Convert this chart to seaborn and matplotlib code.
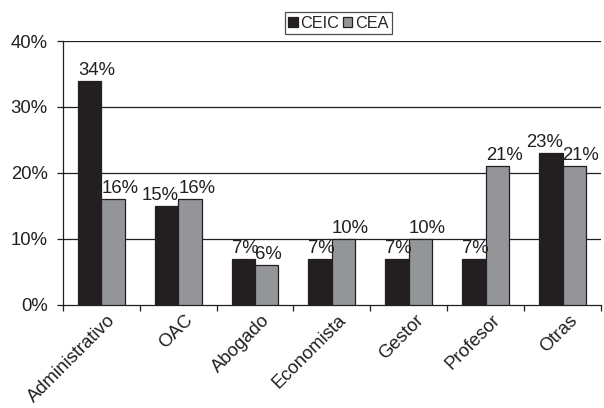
import matplotlib
matplotlib.use("Agg")
import matplotlib.pyplot as plt
import matplotlib.transforms as mtransforms
import seaborn as sns
import pandas as pd
import numpy as np

categories = ["Administrativo", "OAC", "Abogado", "Economista", "Gestor", "Profesor", "Otras"]
ceic = [34, 15, 7, 7, 7, 7, 23]
cea = [16, 16, 6, 10, 10, 21, 21]
series = ["CEIC", "CEA"]
yticks = [0, 10, 20, 30, 40]

sns.set_theme(style="white")
plt.rcParams["font.family"] = ["Liberation Sans", "DejaVu Sans"]

INK = "#231f20"
FS = 13.3

df = pd.DataFrame({
    "cat": categories * 2,
    "val": ceic + cea,
    "serie": [series[0]] * len(categories) + [series[1]] * len(categories),
})

fig = plt.figure(figsize=(6.04, 4.08), dpi=100)
ax = fig.add_axes([0.104, 0.2525, 0.891, 0.647])

sns.barplot(data=df, x="cat", y="val", hue="serie", order=categories,
            hue_order=series, palette=[INK, "#939598"], width=0.61,
            edgecolor=INK, linewidth=0.9, saturation=1, ax=ax, zorder=3)

# Value labels: start at the bar's left edge; when the two labels of a
# group sit at nearly the same height, the first one ends at its bar's
# right edge instead so they do not collide.
c_ceic, c_cea = ax.containers[0], ax.containers[1]
for i, (b1, b2) in enumerate(zip(c_ceic, c_cea)):
    v1, v2 = ceic[i], cea[i]
    close = abs(v1 - v2) < 3 and len(f"{v1}%") > 2
    if close:
        ax.text(b1.get_x() + b1.get_width(), v1 + 0.3, f"{v1}%", ha="right",
                va="bottom", fontsize=FS, color=INK)
    else:
        ax.text(b1.get_x(), v1 + 0.3, f"{v1}%", ha="left", va="bottom",
                fontsize=FS, color=INK)
    ax.text(b2.get_x(), v2 + 0.3, f"{v2}%", ha="left", va="bottom",
            fontsize=FS, color=INK)

ax.set_ylim(0, 40)
ax.set_xlim(-0.5, len(categories) - 0.5)
ax.set_yticks(yticks)
ax.set_yticklabels([f"{t}%" for t in yticks], fontsize=FS, color=INK)
for t in yticks[1:]:
    ax.axhline(t, color=INK, lw=0.9, zorder=1)

ax.set_xticks(range(len(categories)))
ax.set_xticklabels(categories, rotation=45, ha="right", rotation_mode="anchor",
                   fontsize=FS, color=INK)
ax.tick_params(axis="x", which="major", length=0, pad=5)
shift = mtransforms.ScaledTranslation(6 / 100, 0, fig.dpi_scale_trans)
for lab in ax.get_xticklabels():
    lab.set_transform(lab.get_transform() + shift)
ax.set_xticks(np.arange(-0.5, len(categories) + 0.5, 1), minor=True)
ax.tick_params(axis="x", which="minor", length=4, width=0.9, color=INK,
               direction="out", bottom=True)
ax.tick_params(axis="y", length=4, width=0.9, color=INK, left=True,
               direction="out", pad=7)

ax.set_xlabel("")
ax.set_ylabel("")
for s in ["top", "right"]:
    ax.spines[s].set_visible(False)
for s in ["left", "bottom"]:
    ax.spines[s].set_color(INK)
    ax.spines[s].set_linewidth(0.9)

leg = ax.legend(loc="lower center", bbox_to_anchor=(0.512, 1.025), ncol=2,
                frameon=True, fancybox=False, edgecolor=INK,
                fontsize=11.7, handlelength=0.6, handleheight=0.6,
                handletextpad=0.15, columnspacing=0.2, borderpad=0.22,
                borderaxespad=0)
leg.get_frame().set_linewidth(0.9)

fig.savefig("out.png", dpi=100)
